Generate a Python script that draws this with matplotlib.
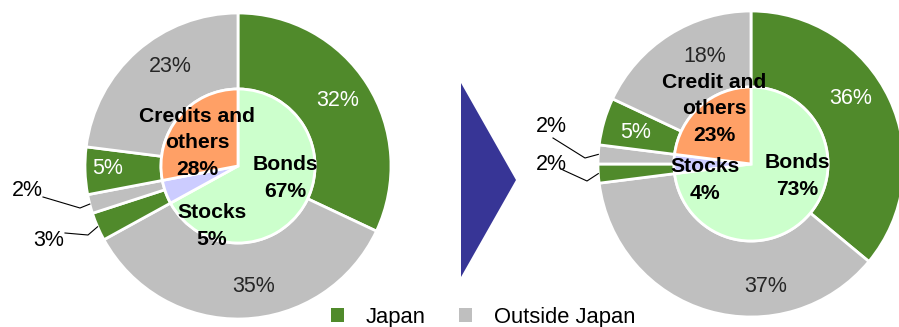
import numpy as np
import matplotlib
matplotlib.use("Agg")
import matplotlib.pyplot as plt
from matplotlib.patches import Patch, Polygon

plt.rcParams['font.family'] = ['Liberation Sans', 'DejaVu Sans']

# allocation before / after (percent of portfolio)
segments = ["Bonds", "Stocks", "Credits and others"]
left_japan = [32, 3, 5]
left_outside = [35, 2, 23]
left_inner = [67, 5, 28]
left_inner_names = ["Bonds", "Stocks", "Credits and\nothers"]

right_japan = [36, 2, 5]
right_outside = [37, 2, 18]
right_inner = [73, 4, 23]
right_inner_names = ["Bonds", "Stocks", "Credit and\nothers"]

legend_labels = ["Japan", "Outside Japan"]

GREEN = "#508a2b"
GRAY = "#bfbfbf"
INNER_COLORS = ["#ccffcc", "#ccccff", "#ffa066"]

W, H = 899, 327
R_OUT, R_IN = 153, 77


def interleave(japan, outside):
    vals, cols = [], []
    for j, o in zip(japan, outside):
        vals += [j, o]
        cols += [GREEN, GRAY]
    return vals, cols


def mid_point(vals, idx, center, r):
    # clockwise from 12 o'clock
    start = sum(vals[:idx])
    frac = (start + vals[idx] / 2) / sum(vals)
    ang = np.deg2rad(90 - 360 * frac)
    return center[0] + r * np.cos(ang), center[1] + r * np.sin(ang)


def draw_donut(ax, center, japan, outside, inner, inner_names,
               outer_pos, inner_pos, small, leaders):
    vals, cols = interleave(japan, outside)
    ax.pie(vals, colors=cols, radius=R_OUT, center=center, startangle=90,
           counterclock=False, frame=True,
           wedgeprops=dict(width=R_OUT - R_IN, edgecolor="white", linewidth=2))
    ax.pie(inner, colors=INNER_COLORS, radius=R_IN, center=center, startangle=90,
           counterclock=False, frame=True,
           wedgeprops=dict(edgecolor="white", linewidth=2))

    # percentages on the ring
    for idx, (dx, dy) in outer_pos.items():
        color = "white" if cols[idx] == GREEN else "#262626"
        ax.text(center[0] + dx, center[1] + dy, f"{vals[idx]}%", ha="center",
                va="center", fontsize=15.5, color=color, zorder=5)

    # thin slices get labels outside with leader lines
    for idx, (tx, ty), (ex, ey) in zip(small, leaders[0], leaders[1]):
        px, py = mid_point(vals, idx, center, R_OUT)
        ax.text(tx, ty, f"{vals[idx]}%", ha="center", va="center",
                fontsize=15.5, color="black", zorder=5)
        ax.plot([ex[0], ey[0], px], [ex[1], ey[1], py], color="black",
                lw=0.8, zorder=4)

    for name, v, (dx, dy) in zip(inner_names, inner, inner_pos):
        ax.text(center[0] + dx, center[1] + dy, f"{name}\n{v}%", ha="center",
                va="center", fontsize=15.2, fontweight="bold", color="black",
                linespacing=1.5, zorder=6)


fig = plt.figure(figsize=(W / 100, H / 100), dpi=100)
ax = fig.add_axes([0, 0, 1, 1])

draw_donut(ax, (238, H - 166), left_japan, left_outside, left_inner,
           left_inner_names,
           outer_pos={0: (100, 66), 1: (16, -121), 4: (-130, -2), 5: (-68, 99)},
           inner_pos=[(47, -12), (-26, -60), (-41, 23)],
           small=[3, 2],
           leaders=([(27, H - 191), (49, H - 241)],
                    [((43, H - 197), (80, H - 208)),
                     ((65, H - 233), (88, H - 235))]))

draw_donut(ax, (751, H - 164), right_japan, right_outside, right_inner,
           right_inner_names,
           outer_pos={0: (100, 66), 1: (15, -122), 4: (-115, 32), 5: (-46, 107)},
           inner_pos=[(46, -12), (-46, -16), (-37, 55)],
           small=[3, 2],
           leaders=([(551, H - 126), (551, H - 165)],
                    [((553, H - 138), (585, H - 158)),
                     ((563, H - 170), (587, H - 181))]))

# arrow between the two states
ax.add_patch(Polygon([(461, H - 83), (461, H - 277), (516, H - 180)],
                     closed=True, color="#373596", lw=0))

handles = [Patch(facecolor=GREEN, edgecolor="none"),
           Patch(facecolor=GRAY, edgecolor="none")]
ax.legend(handles, legend_labels, ncol=2, loc="center",
          bbox_to_anchor=(483 / W, 10 / H), frameon=False, fontsize=15.8,
          handlelength=0.6, handleheight=0.6, handletextpad=1.0,
          columnspacing=1.5, borderpad=0)

ax.set_xlim(0, W)
ax.set_ylim(0, H)
ax.set_aspect("equal")
ax.axis("off")

fig.savefig("out.png", dpi=100)
